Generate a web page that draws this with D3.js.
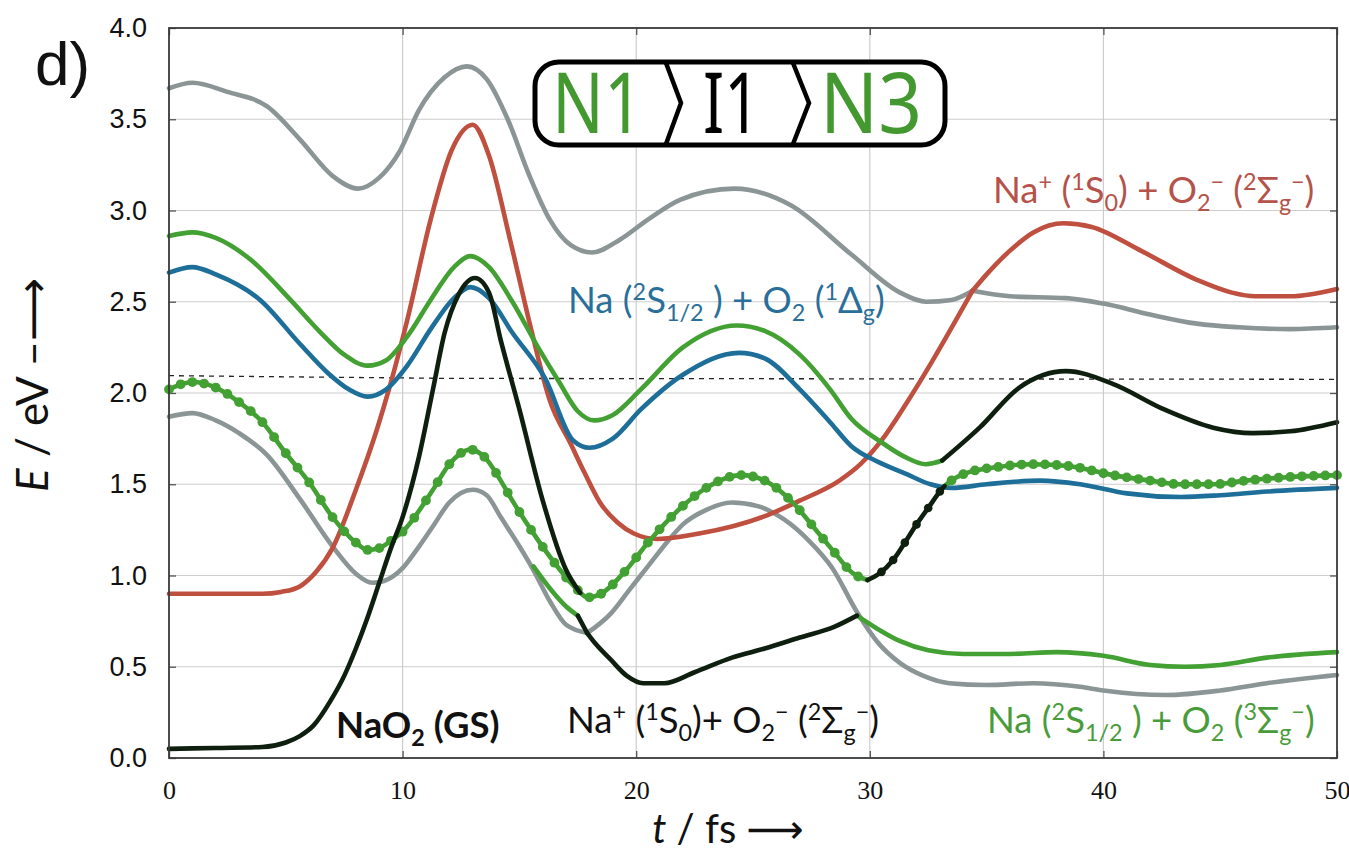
<!DOCTYPE html>
<html>
<head>
<meta charset="utf-8">
<script src="https://cdn.jsdelivr.net/npm/d3@7"></script>
<style>
    body { margin: 0; background: #fff; }
    svg { display: block; }
    text { white-space: pre; }
</style>
</head>
<body>
<svg id="chart" width="1349" height="854"></svg>
<script>
(function () {
    'use strict'

    // ticks
    const T_TICKS = [0, 10, 20, 30, 40, 50];
    const E_TICKS = [0, 0.5, 1, 1.5, 2, 2.5, 3, 3.5, 4];

    // potential energy curves, [t / fs, E / eV], one array per coloured stroke
    const grayTop = [[0, 3.67], [1, 3.70], [2.5, 3.65], [4.2, 3.57], [5.6, 3.39], [7, 3.19], [8.1, 3.12], [9, 3.18],
        [9.9, 3.33], [10.7, 3.55], [11.8, 3.73], [12.75, 3.79], [13.6, 3.72], [14.5, 3.50], [15.4, 3.20],
        [16.3, 2.95], [17.2, 2.81], [18.1, 2.77], [19.3, 2.84], [20.5, 2.95], [21.9, 3.06], [24.2, 3.12],
        [26.6, 3.03], [29.2, 2.76], [31.3, 2.55], [32.4, 2.50], [33.5, 2.51], [34.4, 2.56]];
    const grayRight = [[34.4, 2.56], [36, 2.53], [38.4, 2.52], [40, 2.49], [42, 2.43], [44, 2.38], [45.8, 2.36],
        [48, 2.35], [50, 2.36]];
    const redTop = [[34.4, 2.56], [35, 2.65], [36, 2.78], [37, 2.88], [38.3, 2.93], [39.5, 2.91], [41.6, 2.78],
        [44, 2.62], [45.5, 2.55], [46.5, 2.53], [48, 2.53], [50, 2.57]];
    const redMain = [[0, 0.90], [2, 0.90], [4, 0.90], [4.8, 0.91], [5.6, 0.94], [6.3, 1.02], [7, 1.15], [8, 1.47],
        [8.9, 1.80], [9.46, 2.04], [10.2, 2.40], [11.2, 2.95], [12.1, 3.33], [13, 3.47], [13.7, 3.30], [14.6, 2.84],
        [15.5, 2.35], [16.3, 1.96], [17.2, 1.72], [17.8, 1.56], [18.45, 1.40], [19.2, 1.29], [19.9, 1.23],
        [20.9, 1.20], [22.7, 1.23], [25.6, 1.33], [27, 1.41], [28.7, 1.52], [29.6, 1.61], [30.5, 1.74],
        [31.5, 1.93], [32.7, 2.18], [33.6, 2.38], [34.4, 2.56]];
    const blue = [[0, 2.66], [1, 2.69], [2, 2.65], [3.9, 2.51], [5.6, 2.27], [6.8, 2.11], [7.7, 2.02], [8.5, 1.98],
        [9.3, 2.02], [10.2, 2.15], [11.2, 2.35], [12.2, 2.52], [12.9, 2.58], [13.7, 2.52], [14.7, 2.33], [16.1, 2.08],
        [17.3, 1.74], [18, 1.70], [19, 1.75], [20.2, 1.91], [22, 2.10], [24.4, 2.22], [25.5, 2.19], [27, 2.02],
        [28.3, 1.84], [29.2, 1.71], [30.4, 1.62], [31.5, 1.56], [32.6, 1.50], [33.5, 1.48], [35, 1.50], [37.3, 1.52],
        [39, 1.50], [41, 1.45], [43.3, 1.43], [45, 1.44], [47, 1.46], [50, 1.48]];
    const greenTop = [[0, 2.86], [1, 2.88], [2, 2.85], [3.5, 2.73], [5.2, 2.51], [6.5, 2.33], [7.5, 2.21],
        [8.5, 2.15], [9.3, 2.18], [10.2, 2.31], [11.2, 2.51], [12.2, 2.69], [12.9, 2.75], [13.7, 2.69], [14.7, 2.50],
        [15.8, 2.25], [16.7, 2.06], [17.5, 1.90], [18.2, 1.85], [19, 1.88], [20.2, 2.02], [22, 2.25], [24.3, 2.37],
        [25.5, 2.34], [27, 2.21], [28.3, 2.02], [29.2, 1.86], [30.5, 1.73], [31.5, 1.65], [32.4, 1.61], [33.1, 1.63]];
    const blackRight = [[33.1, 1.63], [34.7, 1.81], [36.4, 2.03], [38.4, 2.12], [40.4, 2.05], [42.6, 1.91],
        [44.7, 1.81], [46.4, 1.78], [48, 1.79], [50, 1.84]];
    const grayLow = [[0, 1.87], [1, 1.89], [2, 1.85], [3, 1.78], [4.2, 1.66], [5.6, 1.42], [7, 1.16], [8, 1.01],
        [8.7, 0.96], [9.2, 0.97], [10, 1.04], [10.6, 1.14], [11.3, 1.27], [12, 1.40], [13, 1.47], [13.6, 1.44],
        [14.2, 1.32], [15, 1.16], [15.6, 1.03], [16.3, 0.86], [17, 0.73], [17.9, 0.685]];
    const grayLowRight = [[17.9, 0.685], [18.9, 0.79], [19.7, 0.92], [20.5, 1.05], [21.3, 1.18], [22, 1.28],
        [23, 1.36], [24.1, 1.40], [25.2, 1.38], [26.3, 1.31], [27.4, 1.19], [28.4, 1.04], [29.45, 0.80], [30.3, 0.64],
        [31.3, 0.52], [32.3, 0.45], [33.4, 0.41], [35, 0.40], [37, 0.41], [39, 0.39], [40, 0.37], [42.7, 0.345],
        [45, 0.37], [47, 0.41], [50, 0.455]];
    const greenSliver = [[15.6, 1.05], [16.3, 0.93], [17, 0.83], [17.5, 0.78]];
    const blackSliver = [[17.5, 0.78], [17.9, 0.685]];
    const blackLow = [[17.9, 0.685], [18.3, 0.62], [18.9, 0.54], [19.6, 0.45], [20.3, 0.41], [21.2, 0.41],
        [22.5, 0.47], [24.1, 0.55], [25.5, 0.60], [27, 0.66], [28.5, 0.72], [29.45, 0.78]];
    const greenLow = [[29.45, 0.78], [30.3, 0.71], [31.3, 0.64], [32.5, 0.59], [34, 0.57], [36, 0.57], [38, 0.58],
        [40, 0.56], [42, 0.51], [43.5, 0.50], [45, 0.51], [47, 0.55], [50, 0.58]];
    const blackGS = [[0, 0.05], [2, 0.055], [4, 0.06], [5, 0.085], [5.6, 0.12], [6.2, 0.18], [6.9, 0.31],
        [7.5, 0.45], [8, 0.60], [8.5, 0.77], [9, 0.96], [9.5, 1.15], [10, 1.32], [10.7, 1.65], [11.3, 2.02],
        [11.8, 2.33], [12.4, 2.54], [13.1, 2.63], [13.7, 2.55], [14.2, 2.29], [15, 1.91], [16, 1.41], [17, 1.03],
        [17.6, 0.905]];

    // active trajectory (N1 > I1 > N3), drawn with markers
    const greenDot1 = [[0, 2.02], [1, 2.06], [2, 2.03], [3, 1.95], [4, 1.84], [5, 1.67], [6, 1.51], [7, 1.32],
        [8, 1.18], [8.5, 1.14], [9, 1.15], [9.5, 1.19], [10, 1.24], [11.3, 1.47], [12, 1.61], [12.9, 1.69],
        [13.5, 1.65], [14.2, 1.52], [14.7, 1.41], [15.5, 1.25], [16.5, 1.07], [17.5, 0.92], [17.9, 0.88],
        [18.5, 0.90], [19.5, 1.02], [20.5, 1.18], [21.9, 1.37], [23, 1.48], [24.5, 1.55], [25.5, 1.52],
        [26.7, 1.40], [27.5, 1.28], [28.4, 1.14], [29.3, 1.01], [29.9, 0.975]];
    const blackDot = [[29.9, 0.975], [30.4, 1.01], [31, 1.085], [31.5, 1.18], [32, 1.28], [32.5, 1.37],
        [33, 1.46], [33.2, 1.49]];
    const greenDot2 = [[33.2, 1.49], [33.6, 1.53], [34.1, 1.56], [35.5, 1.595], [37, 1.61], [38.5, 1.60],
        [40.4, 1.55], [42, 1.52], [43.3, 1.50], [44.7, 1.50], [46.1, 1.52], [48, 1.54], [50, 1.55]];
    const MARKER_STEP = 0.5; // fs between trajectory steps

    // total energy (dashed)
    const totalEnergy = [[0, 2.095], [12, 2.08], [50, 2.075]];

    const GRAY = '#8b9595', RED = '#bf4f3e', BLUE = '#1d6e98', GREEN = '#43a033', BLACK = '#0f1f0f';
    const LABEL_SIZE = 36.5;

    const svg = d3.select('#chart');
    const margin = { top: 28, right: 12, bottom: 96, left: 169 };
    const width = +svg.attr('width') - margin.left - margin.right,
        height = +svg.attr('height') - margin.top - margin.bottom;

    const x = d3.scaleLinear().domain([0, 50]).range([0, width]);
    const y = d3.scaleLinear().domain([0, 4]).range([height, 0]);

    const g = svg.append('g').attr('transform', 'translate(' + margin.left + ',' + margin.top + ')');

    // grid
    g.append('g').selectAll('line').data(T_TICKS.slice(1, -1)).enter().append('line')
        .attr('x1', d => x(d)).attr('x2', d => x(d)).attr('y1', 0).attr('y2', height)
        .attr('stroke', '#cdcdcd').attr('stroke-width', 1.2);
    g.append('g').selectAll('line').data(E_TICKS.slice(1, -1)).enter().append('line')
        .attr('y1', d => y(d)).attr('y2', d => y(d)).attr('x1', 0).attr('x2', width)
        .attr('stroke', '#cdcdcd').attr('stroke-width', 1.2);

    // inward ticks on all four sides
    const tickAxes = [
        [d3.axisBottom(x).tickValues(T_TICKS), 'translate(0,' + height + ')'],
        [d3.axisTop(x).tickValues(T_TICKS), 'translate(0,0)'],
        [d3.axisLeft(y).tickValues(E_TICKS), 'translate(0,0)'],
        [d3.axisRight(y).tickValues(E_TICKS), 'translate(' + width + ',0)']
    ];
    tickAxes.forEach(([ax, tr]) => {
        const a = g.append('g').attr('transform', tr).call(ax.tickSize(-7).tickFormat(''));
        a.select('.domain').remove();
        a.selectAll('line').attr('stroke', '#555').attr('stroke-width', 1.3);
    });

    // tick labels
    const yLab = g.append('g').call(d3.axisLeft(y).tickValues(E_TICKS).tickFormat(d3.format('.1f'))
        .tickSize(0).tickPadding(22));
    yLab.select('.domain').remove();
    yLab.selectAll('text').attr('font-family', '"Liberation Sans", Arial, sans-serif')
        .attr('font-size', 27).attr('fill', '#111');

    const xLab = g.append('g').attr('transform', 'translate(0,' + height + ')')
        .call(d3.axisBottom(x).tickValues(T_TICKS).tickSize(0).tickPadding(23));
    xLab.select('.domain').remove();
    xLab.selectAll('text').attr('font-family', '"Liberation Serif", "DejaVu Serif", serif')
        .attr('font-size', 26).attr('fill', '#111');

    // dashed total energy
    const line = d3.line().x(d => x(d[0])).y(d => y(d[1])).curve(d3.curveMonotoneX);
    g.append('path').datum(totalEnergy).attr('d', d3.line().x(d => x(d[0])).y(d => y(d[1])))
        .attr('fill', 'none').attr('stroke', '#222').attr('stroke-width', 1.3).attr('stroke-dasharray', '5,5');

    function stroke(data, color) {
        return g.append('path').datum(data).attr('d', line)
            .attr('fill', 'none').attr('stroke', color).attr('stroke-width', 4.6)
            .attr('stroke-linecap', 'round').attr('stroke-linejoin', 'round');
    }

    // find the point of a drawn path at a given time
    function pointAt(path, t) {
        const node = path.node(), total = node.getTotalLength(), tx = x(t);
        let lo = 0, hi = total;
        for (let i = 0; i < 30; i++) {
            const mid = (lo + hi) / 2;
            if (node.getPointAtLength(mid).x < tx) lo = mid; else hi = mid;
        }
        return node.getPointAtLength((lo + hi) / 2);
    }

    function markers(path, data, color, r) {
        const t0 = Math.ceil(data[0][0] / MARKER_STEP - 1e-6) * MARKER_STEP;
        const t1 = data[data.length - 1][0];
        const pts = d3.range(t0, t1 + 1e-6, MARKER_STEP).map(t => pointAt(path, t));
        g.append('g').selectAll('circle').data(pts).enter().append('circle')
            .attr('cx', d => d.x).attr('cy', d => d.y).attr('r', r).attr('fill', color);
    }

    [[grayTop, GRAY], [grayRight, GRAY], [grayLow, GRAY], [grayLowRight, GRAY],
        [redMain, RED], [redTop, RED], [blue, BLUE], [greenTop, GREEN], [greenLow, GREEN], [greenSliver, GREEN]]
        .forEach(([d, c]) => stroke(d, c));

    const gd1 = stroke(greenDot1, GREEN), gd2 = stroke(greenDot2, GREEN);
    markers(gd1, greenDot1, GREEN, 4.9);
    markers(gd2, greenDot2, GREEN, 4.9);

    [[blackGS, BLACK], [blackSliver, BLACK], [blackLow, BLACK], [blackRight, BLACK]].forEach(([d, c]) => stroke(d, c));
    const bd = stroke(blackDot, BLACK);
    markers(bd, blackDot.slice(1), BLACK, 4.3);

    // frame
    g.append('rect').attr('width', width).attr('height', height)
        .attr('fill', 'none').attr('stroke', '#3a3a3a').attr('stroke-width', 1.8);

    // rich text with sub/superscripts
    function rich(parent, px, py, parts, size, color, weight) {
        const t = parent.append('text').attr('x', px).attr('y', py)
            .attr('font-family', 'Lato, "Noto Sans", sans-serif').attr('font-size', size)
            .attr('font-weight', weight || 'normal').attr('fill', color);
        let shift = 0;
        parts.forEach(([s, m]) => {
            const target = m === 'sup' ? -0.36 * size : m === 'sub' ? 0.22 * size : 0;
            t.append('tspan').attr('dy', target - shift).attr('font-size', m ? size * 0.64 : size).text(s);
            shift = target;
        });
        return t;
    }

    const labels = [
        [993, 203, [['Na', ''], ['+', 'sup'], [' (', ''], ['1', 'sup'], ['S', ''], ['0', 'sub'], [') + O', ''],
            ['2', 'sub'], ['−', 'sup'], [' (', ''], ['2', 'sup'], ['Σ', ''], ['g', 'sub'], ['−', 'sup'], [')', '']], '#b5524a'],
        [568, 313, [['Na (', ''], ['2', 'sup'], ['S', ''], ['1/2', 'sub'], [' ) + O', ''], ['2', 'sub'], [' (', ''],
            ['1', 'sup'], ['Δ', ''], ['g', 'sub'], [')', '']], '#2a6f99'],
        [567, 733, [['Na', ''], ['+', 'sup'], [' (', ''], ['1', 'sup'], ['S', ''], ['0', 'sub'], [')+ O', ''],
            ['2', 'sub'], ['−', 'sup'], [' (', ''], ['2', 'sup'], ['Σ', ''], ['g', 'sub'], ['−', 'sup'], [')', '']], '#111'],
        [987, 733, [['Na (', ''], ['2', 'sup'], ['S', ''], ['1/2', 'sub'], [' ) + O', ''], ['2', 'sub'], [' (', ''],
            ['3', 'sup'], ['Σ', ''], ['g', 'sub'], ['−', 'sup'], [')', '']], '#4a9c3a']
    ];
    labels.forEach(([lx, ly, parts, c]) => rich(svg, lx, ly, parts, LABEL_SIZE, c));
    rich(svg, 336, 738, [['NaO', ''], ['2', 'sub'], [' (GS)', '']], LABEL_SIZE, '#111', 'bold');

    // N1 > I1 > N3 box
    const box = svg.append('g');
    box.append('rect').attr('x', 535).attr('y', 62).attr('width', 410).attr('height', 83).attr('rx', 24)
        .attr('fill', '#fff').attr('stroke', '#000').attr('stroke-width', 5);
    [[666, 681], [793, 809]].forEach(([a, b]) => {
        box.append('path').attr('d', 'M' + a + ',63 L' + b + ',103 L' + a + ',144')
            .attr('fill', 'none').attr('stroke', '#000').attr('stroke-width', 4.5);
    });
    [['N1', 552, 91, '#43992f'], ['I1', 703, 57, '#000'], ['N3', 820, 102, '#43992f']].forEach(([s, bx, w, c]) => {
        box.append('text').attr('x', bx).attr('y', 133).attr('font-family', '"Noto Sans", sans-serif')
            .attr('font-size', 84).attr('fill', c).attr('textLength', w).attr('lengthAdjust', 'spacingAndGlyphs')
            .text(s);
    });

    // panel letter
    svg.append('text').attr('x', 35).attr('y', 85).attr('font-family', '"Liberation Sans", Arial, sans-serif')
        .attr('font-size', 62).attr('fill', '#111').text('d)');

    // axis titles
    const yt = svg.append('text').attr('transform', 'translate(48,385) rotate(-90)').attr('text-anchor', 'middle')
        .attr('font-family', 'Lato, "DejaVu Sans", sans-serif').attr('font-size', 44).attr('fill', '#111');
    yt.append('tspan').attr('font-style', 'italic').text('E');
    yt.append('tspan').text(' / eV –⟶');

    const xt = svg.append('text').attr('x', 728).attr('y', 843).attr('text-anchor', 'middle')
        .attr('font-family', 'Lato, "DejaVu Sans", sans-serif').attr('font-size', 40).attr('fill', '#111');
    xt.append('tspan').attr('font-style', 'italic').text('t');
    xt.append('tspan').text(' / fs ⟶');

    console.log('chart drawn');
})();
</script>
</body>
</html>
